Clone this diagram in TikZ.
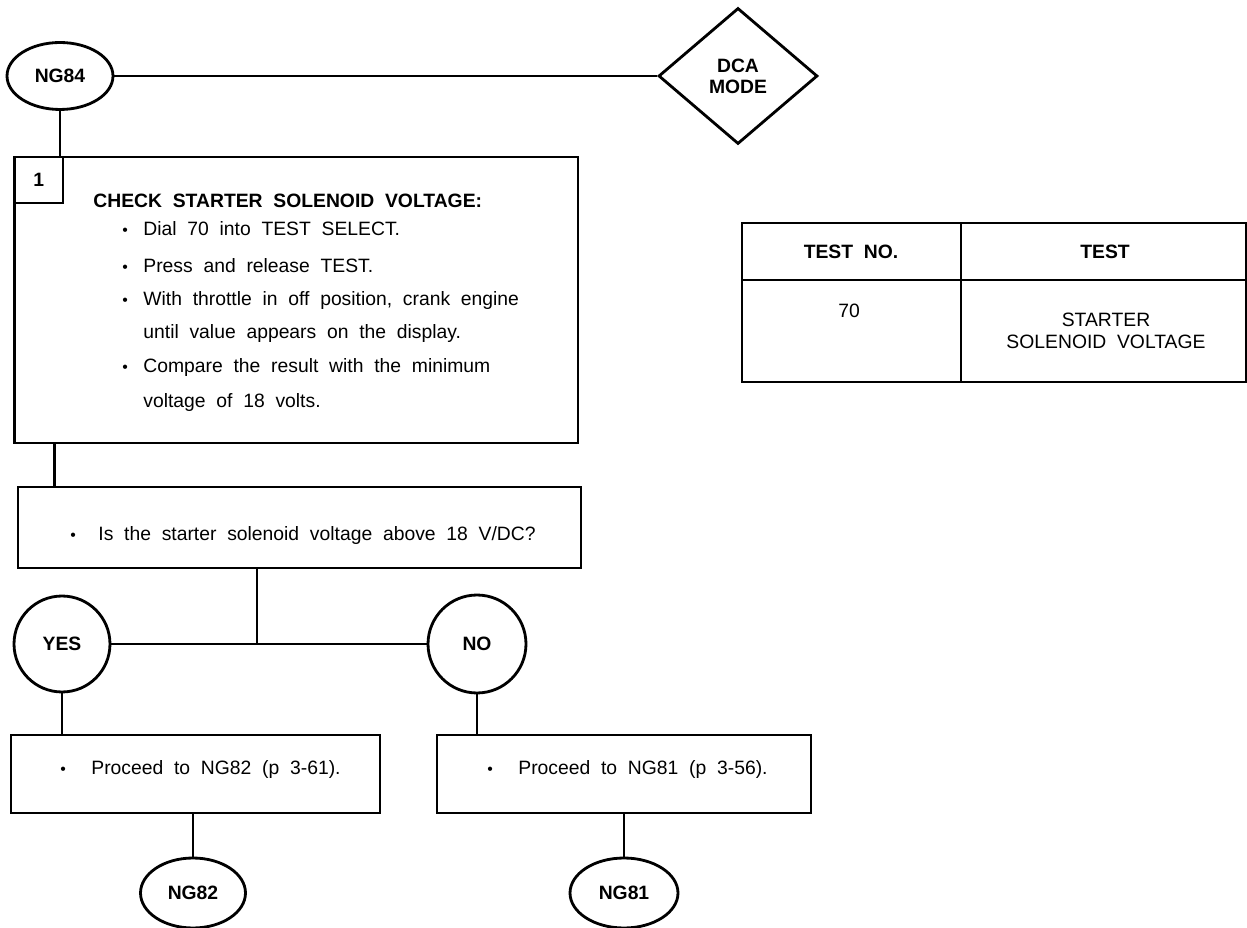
\documentclass[tikz,border=0pt]{standalone}
\usepackage{fontspec}
\setmainfont{Liberation Sans}[WordSpace=2.0]
\usetikzlibrary{shapes.geometric}

% bullet with a fixed indent
\newcommand{\bul}[1]{\makebox[#1][l]{\small\textbullet}}

\begin{document}
\begin{tikzpicture}[x=0.02cm, y=-0.02cm, line width=1.6pt,
    box/.style={draw, rectangle, inner sep=0pt},
    term/.style={draw, ellipse, inner sep=0pt, font=\fontsize{11}{13}\selectfont\bfseries},
    answer/.style={draw, circle, inner sep=0pt, minimum size=1.92cm, font=\fontsize{11}{13}\selectfont\bfseries},
    txt/.style={inner sep=0pt, anchor=base west, font=\fontsize{11}{13}\selectfont},
    hdr/.style={inner sep=0pt, anchor=base, font=\fontsize{11}{13}\selectfont\bfseries},
    cell/.style={inner sep=0pt, anchor=base, font=\fontsize{11}{13}\selectfont}]

    % Fix page size
    \useasboundingbox (0,0) rectangle (1247,928);

    % Entry and mode
    \node[term, minimum width=2.12cm, minimum height=1.34cm] (ng84) at (60,76) {NG84};
    \node[draw, diamond, inner sep=0pt, minimum width=3.18cm, minimum height=2.72cm,
        align=center, font=\fontsize{11}{12}\selectfont\bfseries] (dca) at (738,76) {DCA\\MODE};

    % Step 1
    \node[box, minimum width=11.27cm, minimum height=5.72cm] (step) at (296.25,300) {};
    \node[box, anchor=north west, minimum width=0.97cm, minimum height=0.92cm,
        font=\fontsize{11}{13}\selectfont\bfseries] (stepnum) at (step.north west) {1};

    \node[txt, font=\fontsize{11}{13}\selectfont\bfseries] (chk) at (92,208) {CHECK STARTER SOLENOID VOLTAGE:};
    \node[txt] (s1) at (121,236) {\bul{0.42cm}Dial 70 into TEST SELECT.};
    \node[txt] (s2) at (121,273) {\bul{0.42cm}Press and release TEST.};
    \node[txt] (s3) at (121,306) {\bul{0.42cm}With throttle in off position, crank engine};
    \node[txt] (s3b) at (142,339) {until value appears on the display.};
    \node[txt] (s4) at (121,373) {\bul{0.42cm}Compare the result with the minimum};
    \node[txt] (s4b) at (142,408) {voltage of 18 volts.};

    % Question
    \node[box, minimum width=11.26cm, minimum height=1.62cm] (question) at (299.5,527.5) {};
    \node[txt] (qtxt) at (69,541) {\bul{0.56cm}Is the starter solenoid voltage above 18 V/DC?};

    % Answers
    \node[answer] (yes) at (62,644) {YES};
    \node[answer, minimum size=1.96cm] (no) at (477,644) {NO};
    \coordinate (split) at (257,644);

    \node[box, minimum width=7.38cm, minimum height=1.56cm] (yesbox) at (195.5,774) {};
    \node[txt] (ytxt) at (59,774) {\bul{0.62cm}Proceed to NG82 (p 3-61).};
    \node[box, minimum width=7.48cm, minimum height=1.56cm] (nobox) at (624,774) {};
    \node[txt] (ntxt) at (486,774) {\bul{0.62cm}Proceed to NG81 (p 3-56).};

    \node[term, minimum width=2.10cm, minimum height=1.40cm] (ng82) at (193,893) {NG82};
    \node[term, minimum width=2.16cm, minimum height=1.40cm] (ng81) at (624,893) {NG81};

    % Connectors
    \draw (ng84.east) -- (dca.west);
    \draw (ng84.south) -- (ng84.south |- step.north);
    \draw (step.south west) ++(41,0) coordinate (stepout) -- (stepout |- question.north);
    \draw (split |- question.south) -- (split);
    \draw (yes.east) -- (no.west);
    \draw (yes.south) -- (yes.south |- yesbox.north);
    \draw (no.south) -- (no.south |- nobox.north);
    \draw (ng82.north |- yesbox.south) -- (ng82.north);
    \draw (ng81.north |- nobox.south) -- (ng81.north);

    % Test table
    \coordinate (tnw) at (742,223);
    \coordinate (tse) at (1246,382);
    \draw (tnw) rectangle (tse);
    \draw (961,223) -- (961,382);
    \draw (742,280) -- (1246,280);
    \node[hdr] (thno) at (851,259) {TEST NO.};
    \node[hdr] (thtest) at (1105,259) {TEST};
    \node[cell] (tno) at (849,318) {70};
    \node[cell, anchor=center, align=center, font=\fontsize{11}{12.5}\selectfont] (ttest) at (1106,331) {STARTER\\SOLENOID VOLTAGE};

\end{tikzpicture}
\end{document}
